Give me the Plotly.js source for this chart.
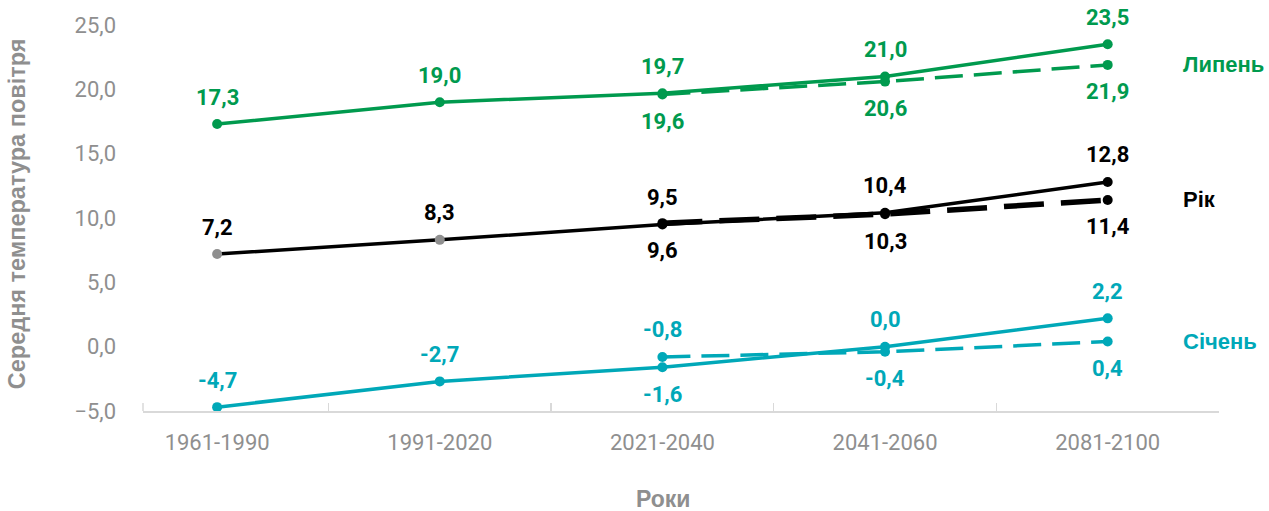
<!DOCTYPE html>
<html>
<head>
<meta charset="utf-8">
<script src="https://cdn.plot.ly/plotly-3.0.1.min.js"></script>
<style>html,body{margin:0;padding:0;background:#fff}#chart{width:1269px;height:511px}</style>
</head>
<body>
<div id="chart"></div>
<script>
// ---- data ----
const periods = ['1961-1990', '1991-2020', '2021-2040', '2041-2060', '2081-2100'];
const scenarioPeriods = ['2021-2040', '2041-2060', '2081-2100'];

const julyObs = [17.3, 19.0, 19.7, 21.0, 23.5];
const julyAlt = [19.6, 20.6, 21.9];
const yearObs = [7.2, 8.3, 9.5, 10.4, 12.8];
const yearAlt = [9.6, 10.3, 11.4];
const janObs = [-4.7, -2.7, -1.6, 0.0, 2.2];
const janAlt = [-0.8, -0.4, 0.4];

const seriesNames = ['Липень', 'Рік', 'Січень'];
const yTitle = 'Середня температура повітря';
const xTitle = 'Роки';

// ---- styles ----
const GREEN = '#009a4e', BLACK = '#000000', TEAL = '#00a8b8', GREY = '#8f8f8f';
const FONT = 'Roboto, "Open Sans", sans-serif';
const TFONT = '"Liberation Sans", Arial, sans-serif';
// label placement (+1 above, -1 below)
const julyObsPos = [1, 1, 1, 1, 1], julyAltPos = [-1, -1, -1];
const yearObsPos = [1, 1, 1, 1, 1], yearAltPos = [-1, -1, -1];
const janObsPos = [1, 1, -1, 1, 1], janAltPos = [1, -1, -1];

const fmt = v => v.toFixed(1).replace('.', ',');

function solid(x, y, color, mcolor, name) {
  return {x, y, type: 'scatter', mode: 'lines+markers', name, cliponaxis: false,
    line: {color, width: 3.5}, marker: {color: mcolor || color, size: 10}, hoverinfo: 'skip'};
}
function dashed(x, y, color, width, dash, name) {
  return {x, y, type: 'scatter', mode: 'lines+markers', name, cliponaxis: false,
    line: {color, width, dash}, marker: {color, size: 10}, hoverinfo: 'skip'};
}

const traces = [
  solid(periods, julyObs, GREEN, null, seriesNames[0]),
  dashed(scenarioPeriods, julyAlt, GREEN, 3.5, '28px,11px', seriesNames[0]),
  solid(periods, yearObs, BLACK, [GREY, GREY, BLACK, BLACK, BLACK], seriesNames[1]),
  dashed(scenarioPeriods, yearAlt, BLACK, 5.5, '40px,17px', seriesNames[1]),
  solid(periods, janObs, TEAL, null, seriesNames[2]),
  dashed(scenarioPeriods, janAlt, TEAL, 3.5, '28px,11px', seriesNames[2])
];

const annotations = [];
function labels(x, y, pos, color) {
  y.forEach((v, i) => annotations.push({
    x: x[i], y: v, xref: 'x', yref: 'y', text: fmt(v), showarrow: false,
    yshift: 27 * pos[i], font: {family: FONT, size: 22, color, weight: 700}
  }));
}
labels(periods, julyObs, julyObsPos, GREEN);
labels(scenarioPeriods, julyAlt, julyAltPos, GREEN);
labels(periods, yearObs, yearObsPos, BLACK);
labels(scenarioPeriods, yearAlt, yearAltPos, BLACK);
labels(periods, janObs, janObsPos, TEAL);
labels(scenarioPeriods, janAlt, janAltPos, TEAL);

// series name labels at right, aligned to last scenario value
[[julyAlt, GREEN, 0], [yearAlt, BLACK, 1], [janAlt, TEAL, 2]].forEach(([arr, c, k]) => {
  annotations.push({x: 4.33, y: arr[arr.length - 1], xref: 'x', yref: 'y', xanchor: 'left',
    text: seriesNames[k], showarrow: false, font: {family: TFONT, size: 22, color: c, weight: 700}});
});

// axis titles
annotations.push({text: xTitle, xref: 'paper', yref: 'paper', x: 0.4833, y: 0, yanchor: 'middle',
  yshift: -88, showarrow: false, font: {family: TFONT, size: 23, color: GREY, weight: 700}});
annotations.push({text: yTitle, xref: 'paper', yref: 'paper', x: -0.117, y: 0.51, xanchor: 'center',
  yanchor: 'middle', textangle: -90, showarrow: false, font: {family: TFONT, size: 23.5, color: GREY, weight: 700}});

const layout = {
  width: 1269, height: 511,
  margin: {l: 143, r: 50, t: 25, b: 100},
  paper_bgcolor: '#fff', plot_bgcolor: '#fff',
  separators: ', ',
  showlegend: false,
  font: {family: FONT, color: GREY},
  xaxis: {
    type: 'category', range: [-0.333, 4.5],
    showline: true, linecolor: '#d9d9d9', linewidth: 2,
    ticks: 'inside', tickson: 'boundaries', ticklen: 8, tickcolor: '#d9d9d9', tickwidth: 1.5,
    showgrid: false, zeroline: false,
    tickfont: {family: FONT, size: 22, color: GREY},
    ticklabelstandoff: 11
  },
  yaxis: {
    range: [-5, 25], dtick: 5, tick0: 0, tickformat: '.1f',
    showline: false, showgrid: false, zeroline: false, ticks: '',
    tickfont: {family: FONT, size: 22, color: GREY},
    ticklabelstandoff: 26
  },
  annotations,
  shapes: [{type: 'line', xref: 'x domain', x0: 0, x1: 0, yref: 'y', ysizemode: 'pixel',
    yanchor: -5, y0: 0, y1: 8, line: {color: '#d9d9d9', width: 1.5}}]
};

Plotly.newPlot('chart', traces, layout, {displayModeBar: false, staticPlot: true});
</script>
</body>
</html>
